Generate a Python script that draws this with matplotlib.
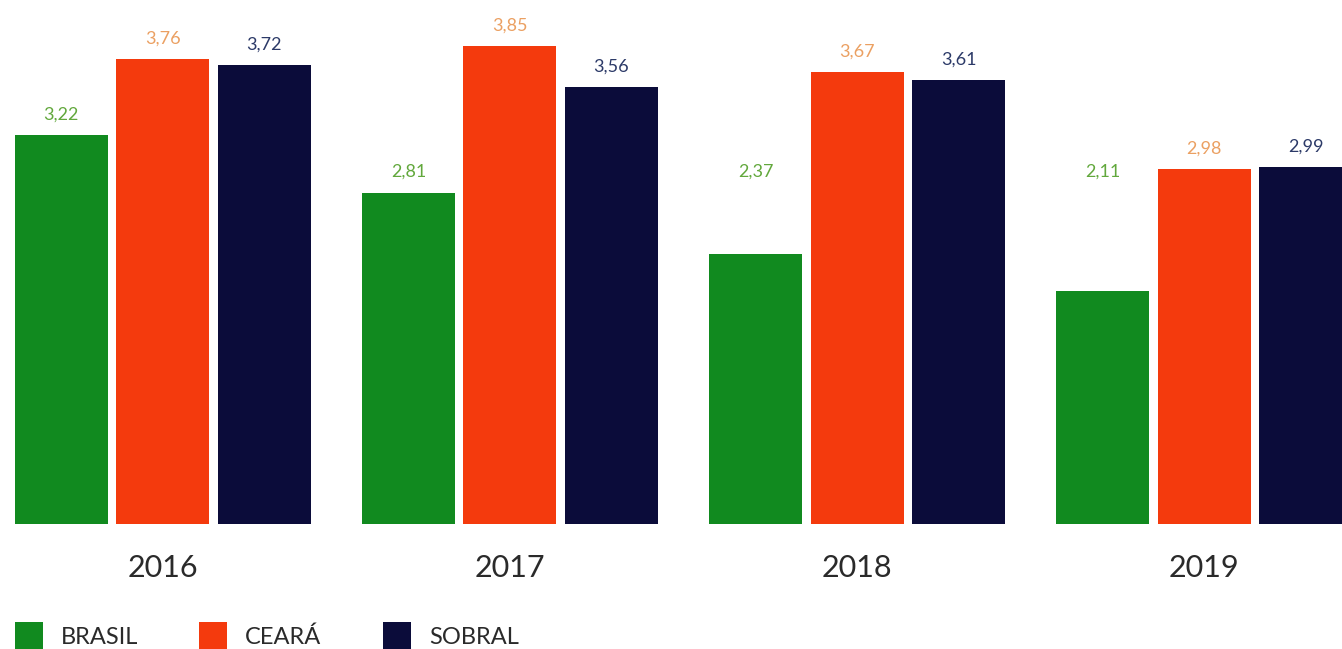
import matplotlib
matplotlib.use("Agg")
import matplotlib.pyplot as plt
from matplotlib.patches import Rectangle
import numpy as np

plt.rcParams['font.family'] = ['Lato', 'DejaVu Sans']

years = ["2016", "2017", "2018", "2019"]
series = ["BRASIL", "CEARÁ", "SOBRAL"]
brasil = [3.22, 2.81, 2.37, 2.11]
ceara = [3.76, 3.85, 3.67, 2.98]
sobral = [3.72, 3.56, 3.61, 2.99]
labels_brasil = ["3,22", "2,81", "2,37", "2,11"]
labels_ceara = ["3,76", "3,85", "3,67", "2,98"]
labels_sobral = ["3,72", "3,56", "3,61", "2,99"]

bar_colors = ["#118a1f", "#f43a0d", "#0b0c3a"]
text_colors = ["#62a83c", "#eba062", "#2c3a68"]

W, H = 1342, 649
fig = plt.figure(figsize=(W / 100, H / 100), dpi=100)
ax = fig.add_axes([0, 1 - 524 / H, 1, 524 / H])

x = np.arange(len(years))
w = 0.268
off = 0.292
data = [brasil, ceara, sobral]
labs = [labels_brasil, labels_ceara, labels_sobral]
for i, (vals, lab) in enumerate(zip(data, labs)):
    xs = x + (i - 1) * off
    ax.bar(xs, vals, width=w, color=bar_colors[i], bottom=0)
    for xx, v, t in zip(xs, vals, lab):
        yv = max(v, brasil[1]) if i == 0 else v
        ax.annotate(t, (xx, yv), xytext=(0, 9), textcoords="offset points",
                    ha="center", va="bottom", fontsize=13,
                    color=text_colors[i])

ax.set_xlim(-0.4686, 3.3966)
ax.set_ylim(0.453, 4.18)
ax.axis("off")

for xx, yr in zip(x, years):
    ax.annotate(yr, (xx, 0.453), xytext=(0, -32), textcoords="offset points",
                ha="center", va="center", fontsize=22,
                color="#2a2a2a", annotation_clip=False)

# legend (manual, figure pixel layout)
leg_x0, leg_dx = 15, 184
for i, name in enumerate(series):
    x0 = leg_x0 + i * leg_dx
    fig.add_artist(Rectangle((x0 / W, 1 - 651 / H), 28 / W, 29 / H,
                             transform=fig.transFigure, facecolor=bar_colors[i],
                             edgecolor="none"))
    fig.text((x0 + 46) / W, 1 - 637 / H, name, ha="left", va="center",
             fontsize=17, color="#2a2a2a")

fig.savefig("out.png", dpi=100, facecolor="white")
